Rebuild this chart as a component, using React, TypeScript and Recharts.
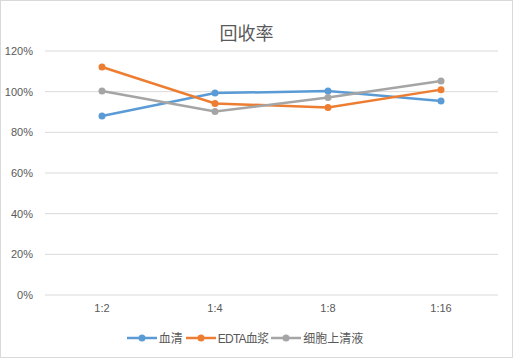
import { LineChart, Line, XAxis, YAxis, CartesianGrid, Legend } from 'recharts'

const categories = ['1:2', '1:4', '1:8', '1:16']
const serum = [0.88, 0.993, 1.003, 0.954]
const edtaPlasma = [1.121, 0.942, 0.922, 1.01]
const supernatant = [1.003, 0.902, 0.971, 1.052]
const yTicks = [0, 0.2, 0.4, 0.6, 0.8, 1.0, 1.2]

const seriesDefs = [
  { key: 'serum', name: '血清', color: '#5B9BD5' },
  { key: 'edta', name: 'EDTA血浆', color: '#ED7D31' },
  { key: 'sup', name: '细胞上清液', color: '#A5A5A5' },
]

const data = categories.map((c, i) => ({
  cat: c,
  serum: serum[i],
  edta: edtaPlasma[i],
  sup: supernatant[i],
}))

const FONT = '"Liberation Sans", "Noto Sans CJK SC", sans-serif'

function LegendContent() {
  return (
    <div style={{ display: 'flex', justifyContent: 'center', alignItems: 'center', fontFamily: FONT, fontSize: '12px', color: '#595959', paddingTop: '4px', marginLeft: '-6px' }}>
      {seriesDefs.map(s => (
        <div key={s.key} style={{ display: 'flex', alignItems: 'center', marginRight: '3px' }}>
          <svg width={30} height={10} style={{ marginRight: '2px' }}>
            <line x1={0} y1={5} x2={30} y2={5} stroke={s.color} strokeWidth={2.5} />
            <circle cx={15} cy={5} r={3.5} fill={s.color} />
          </svg>
          <span style={{ letterSpacing: s.key === 'edta' ? '-0.8px' : 0 }}>{s.name}</span>
        </div>
      ))}
    </div>
  )
}

export default function App() {
  return (
    <div style={{ position: 'absolute', left: 0, top: 0, width: 511, height: 356, border: '1px solid #D9D9D9', background: '#fff' }}>
      <div style={{ position: 'absolute', top: 18, left: -10, width: '100%', textAlign: 'center', fontFamily: FONT, fontSize: '18px', color: '#595959' }}>
        回收率
      </div>
      <LineChart width={511} height={356} data={data} margin={{ top: 50, right: 14, bottom: 7, left: 0 }}>
        <CartesianGrid vertical={false} stroke="#D9D9D9" />
        <XAxis
          dataKey="cat"
          axisLine={false}
          tickLine={false}
          height={30}
          tickMargin={3}
          padding={{ left: 57, right: 57 }}
          tick={{ fill: '#595959', fontSize: 11, fontFamily: FONT }}
        />
        <YAxis
          domain={[0, 1.2]}
          ticks={yTicks}
          width={44}
          axisLine={false}
          tickLine={false}
          tickMargin={6}
          tickFormatter={(v: number) => `${Math.round(v * 100)}%`}
          tick={{ fill: '#595959', fontSize: 11, fontFamily: FONT }}
        />
        <Legend verticalAlign="bottom" height={25} content={() => <LegendContent />} />
        {seriesDefs.map(s => (
          <Line
            key={s.key}
            dataKey={s.key}
            name={s.name}
            stroke={s.color}
            strokeWidth={2.5}
            dot={{ r: 3.5, fill: s.color, stroke: s.color, strokeWidth: 0 }}
            isAnimationActive={false}
          />
        ))}
      </LineChart>
    </div>
  )
}
